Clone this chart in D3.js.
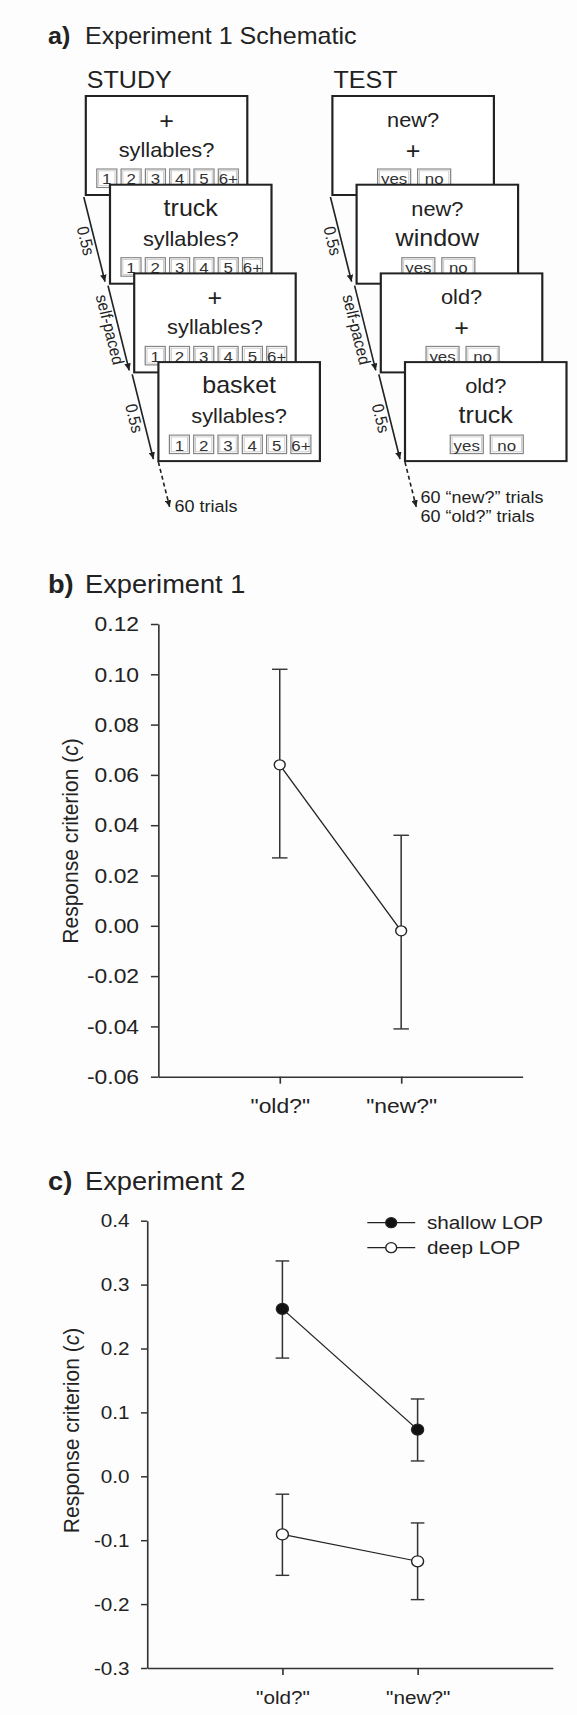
<!DOCTYPE html>
<meta charset="utf-8">
<style>

body {
  margin: 0;
  background: #fdfdfd;
}

svg {
  display: block;
  font-family: "Liberation Sans", Arial, sans-serif;
}

.axis path, .axis line {
  stroke: #333;
  stroke-width: 1.5;
}

</style>

<svg width="577" height="1715"></svg>

<script src="https://d3js.org/d3.v7.min.js"></script>
<script>

// schematic content
var studyWords = ["+", "truck", "+", "basket"],
    studyPrompt = "syllables?",
    studyKeys = ["1", "2", "3", "4", "5", "6+"],
    testPrompts = ["new?", "new?", "old?", "old?"],
    testWords = ["+", "window", "+", "truck"],
    testKeys = ["yes", "no"],
    delays = ["0.5s", "self-paced", "0.5s"],
    studyNote = ["60 trials"],
    testNote = ["60 “new?” trials", "60 “old?” trials"];

// experiment 1
var conditions = ['"old?"', '"new?"'];
var exp1Mean = [0.064, -0.002],
    exp1Hi = [0.102, 0.036],
    exp1Lo = [0.027, -0.041],
    exp1Ticks = [-0.06, -0.04, -0.02, 0, 0.02, 0.04, 0.06, 0.08, 0.10, 0.12];

// experiment 2
var exp2Series = ["shallow LOP", "deep LOP"];
var shallowMean = [0.262, 0.073],
    shallowHi = [0.337, 0.121],
    shallowLo = [0.185, 0.024];
var deepMean = [-0.091, -0.133],
    deepHi = [-0.028, -0.073],
    deepLo = [-0.155, -0.193];
var exp2Ticks = [-0.3, -0.2, -0.1, 0, 0.1, 0.2, 0.3, 0.4];

var FONT = '"Liberation Sans", Arial, sans-serif',
    INK = "#222";

// the original figure is a bit wider than tall, so everything is drawn
// in narrower units and stretched back out
var SX = 1.09;
function fx(v) { return v / SX; }

var svg = d3.select("svg");
svg.append("rect").attr("width", 577).attr("height", 1715).attr("fill", "#fdfdfd");

var root = svg.append("g").attr("transform", "scale(" + SX + ",1)");

var defs = svg.append("defs");
defs.append("marker")
    .attr("id", "tip")
    .attr("markerUnits", "userSpaceOnUse")
    .attr("markerWidth", 8).attr("markerHeight", 6)
    .attr("refX", 7).attr("refY", 3)
    .attr("orient", "auto")
  .append("path")
    .attr("d", "M0,0L7,3L0,6Z")
    .attr("fill", INK);

function title(letter, label, y, size) {
  root.append("text").attr("x", fx(48)).attr("y", y)
      .attr("font-size", size).attr("font-weight", "bold").attr("fill", INK)
      .text(letter);
  root.append("text").attr("x", fx(85)).attr("y", y)
      .attr("font-size", size).attr("fill", INK)
      .text(label);
}

// ---------- a) schematic ----------

title("a)", "Experiment 1 Schematic", 44, 23);

var top0 = 96, stepX = 24.2, stepY = 88.7, boxW = 161.5, boxH = 99;

function drawColumn(head, left0, line1, line2, keys, keyW, keyPitch, note, noteY) {
  root.append("text").attr("x", fx(left0 + 1)).attr("y", 88)
      .attr("font-size", 23).attr("fill", INK).text(head);

  var schem = root.append("g");

  line1.forEach(function(_, i) {
    var L = left0 + i * stepX, T = top0 + i * stepY;
    var cx = fx(L + boxW / 2);
    var card = schem.append("g");

    card.append("rect")
        .attr("x", fx(L)).attr("y", T)
        .attr("width", fx(boxW)).attr("height", boxH)
        .attr("fill", "#fff").attr("stroke", INK).attr("stroke-width", 2);

    [line1[i], line2[i]].forEach(function(t, j) {
      card.append("text")
          .attr("x", cx)
          .attr("y", T + (j ? 61 : 31) + (t.s === 23 && t.v === "+" ? 2 : 0))
          .attr("text-anchor", "middle")
          .attr("font-size", t.s)
          .attr("fill", INK)
          .text(t.v);
    });

    var rowW = keyPitch * (keys.length - 1) + keyW,
        rowL = L + boxW / 2 - rowW / 2 + 1;
    keys.forEach(function(k, n) {
      var kx = rowL + n * keyPitch;
      card.append("rect")
          .attr("x", fx(kx)).attr("y", T + 73)
          .attr("width", fx(keyW)).attr("height", 18.5)
          .attr("fill", "#fff").attr("stroke", "#808080").attr("stroke-width", 1.1);
      card.append("rect")
          .attr("x", fx(kx + 1.8)).attr("y", T + 74.8)
          .attr("width", fx(keyW - 3.6)).attr("height", 14.9)
          .attr("fill", "none").attr("stroke", "#c4c4c4").attr("stroke-width", 0.8);
      card.append("text")
          .attr("x", fx(kx + keyW / 2)).attr("y", T + 88.5)
          .attr("text-anchor", "middle")
          .attr("font-size", 15.5)
          .attr("fill", "#333")
          .text(k);
    });
  });

  // arrows between the cards, with the delay along each one
  var dxu = fx(stepX - 3), dyu = stepY - 4,
      ang = Math.atan2(dyu, dxu) * 180 / Math.PI;

  delays.forEach(function(d, i) {
    var x1 = fx(left0 + i * stepX - 2), y1 = top0 + i * stepY + boxH + 2,
        x2 = x1 + dxu, y2 = y1 + dyu;
    schem.append("line")
        .attr("x1", x1).attr("y1", y1).attr("x2", x2).attr("y2", y2)
        .attr("stroke", INK).attr("stroke-width", 1.5)
        .attr("marker-end", "url(#tip)");
    var mx = (x1 + x2) / 2 - fx(8.5), my = (y1 + y2) / 2 + 1.5;
    schem.append("text")
        .attr("transform", "translate(" + mx + "," + my + ") rotate(" + ang + ")")
        .attr("text-anchor", "middle")
        .attr("dy", "0.35em")
        .attr("font-size", 15.5)
        .attr("fill", INK)
        .text(d);
  });

  var sx = fx(left0 + 3 * stepX), sy = top0 + 3 * stepY + boxH + 1;
  schem.append("line")
      .attr("x1", sx).attr("y1", sy)
      .attr("x2", sx + dxu * 45 / dyu).attr("y2", sy + 45)
      .attr("stroke", INK).attr("stroke-width", 1.5)
      .attr("stroke-dasharray", "4,3")
      .attr("marker-end", "url(#tip)");

  note.forEach(function(t, i) {
    schem.append("text")
        .attr("x", fx(noteY.x)).attr("y", noteY.y + i * 18.4)
        .attr("font-size", 16.5).attr("fill", INK)
        .text(t);
  });
}

drawColumn("STUDY", 85.8,
    studyWords.map(function(w) { return {v: w, s: 23}; }),
    studyWords.map(function() { return {v: studyPrompt, s: 20}; }),
    studyKeys, 20, 24.3, studyNote, {x: 174.5, y: 512});

drawColumn("TEST", 332.4,
    testPrompts.map(function(p) { return {v: p, s: 20}; }),
    testWords.map(function(w) { return {v: w, s: 23}; }),
    testKeys, 33, 40, testNote, {x: 420.5, y: 503.3});

// ---------- charts ----------

function chart(opt) {
  var g = root.append("g");

  var x = d3.scalePoint().domain(conditions).range([fx(opt.x0), fx(opt.x1)]).padding(1);
  var y = d3.scaleLinear().domain(opt.domain).range([opt.yBot, opt.yTop]);

  var yAxis = g.append("g")
      .attr("class", "axis")
      .attr("transform", "translate(" + fx(opt.x0) + ",0)")
      .call(d3.axisLeft(y)
          .tickValues(opt.ticks)
          .tickFormat(function(d) { return d.toFixed(opt.digits); })
          .tickSize(fx(opt.tick))
          .tickSizeOuter(0)
          .tickPadding(fx(opt.pad)));

  var xAxis = g.append("g")
      .attr("class", "axis")
      .attr("transform", "translate(0," + opt.yBot + ")")
      .call(d3.axisBottom(x).tickSize(7).tickSizeOuter(0).tickPadding(opt.xpad));

  [yAxis, xAxis].forEach(function(a) {
    a.attr("font-family", FONT).attr("font-size", opt.font)
     .selectAll("text").attr("fill", INK);
  });

  var lab = g.append("text")
      .attr("transform", "translate(" + fx(opt.labX) + "," + opt.labY + ") rotate(-90)")
      .attr("text-anchor", "middle")
      .attr("font-size", 21)
      .attr("fill", INK);
  lab.append("tspan").text("Response criterion (");
  lab.append("tspan").attr("font-style", "italic").text("c");
  lab.append("tspan").text(")");

  opt.series.forEach(function(s) {
    var pts = conditions.map(function(c, i) {
      return {c: c, m: s.mean[i], hi: s.hi[i], lo: s.lo[i]};
    });

    g.append("path")
        .datum(pts)
        .attr("fill", "none")
        .attr("stroke", INK)
        .attr("stroke-width", 1.2)
        .attr("d", d3.line().x(function(d) { return x(d.c); }).y(function(d) { return y(d.m); }));

    var bars = g.append("g").attr("stroke", "#333").attr("stroke-width", 1.4);
    pts.forEach(function(d) {
      var cx = x(d.c), hw = fx(opt.cap / 2);
      bars.append("line").attr("x1", cx).attr("x2", cx).attr("y1", y(d.hi)).attr("y2", y(d.lo));
      bars.append("line").attr("x1", cx - hw).attr("x2", cx + hw).attr("y1", y(d.hi)).attr("y2", y(d.hi));
      bars.append("line").attr("x1", cx - hw).attr("x2", cx + hw).attr("y1", y(d.lo)).attr("y2", y(d.lo));
    });

    g.selectAll(null)
        .data(pts)
        .enter()
        .append("circle")
          .attr("cx", function(d) { return x(d.c); })
          .attr("cy", function(d) { return y(d.m); })
          .attr("r", opt.r)
          .attr("fill", s.fill)
          .attr("stroke", INK)
          .attr("stroke-width", 1.3);
  });

  return g;
}

title("b)", "Experiment 1", 592.7, 25);

chart({
  x0: 158.3, x1: 522.6, yTop: 624, yBot: 1076.7,
  domain: [-0.06, 0.12], ticks: exp1Ticks, digits: 2,
  tick: 7.4, pad: 11.8, xpad: 14.7, font: 21, cap: 15.5, r: 5,
  labX: 78, labY: 841,
  series: [{mean: exp1Mean, hi: exp1Hi, lo: exp1Lo, fill: "#fff"}]
});

title("c)", "Experiment 2", 1190, 25);

var c2 = chart({
  x0: 147.2, x1: 552.8, yTop: 1220.7, yBot: 1668,
  domain: [-0.3, 0.4], ticks: exp2Ticks, digits: 1,
  tick: 6.2, pad: 11.4, xpad: 16, font: 19, cap: 13.6, r: 5.5,
  labX: 79, labY: 1430.5,
  series: [
    {mean: shallowMean, hi: shallowHi, lo: shallowLo, fill: "#111"},
    {mean: deepMean, hi: deepHi, lo: deepLo, fill: "#fff"}
  ]
});

// legend
var legFill = ["#111", "#fff"];
exp2Series.forEach(function(name, i) {
  var ly = 1222.7 + i * 25;
  c2.append("line")
      .attr("x1", fx(367.3)).attr("x2", fx(415.2))
      .attr("y1", ly).attr("y2", ly)
      .attr("stroke", INK).attr("stroke-width", 1.2);
  c2.append("circle")
      .attr("cx", fx(391.2)).attr("cy", ly).attr("r", 5)
      .attr("fill", legFill[i]).attr("stroke", INK).attr("stroke-width", 1.3);
  c2.append("text")
      .attr("x", fx(427)).attr("y", ly)
      .attr("dy", "0.35em")
      .attr("font-size", 19)
      .attr("fill", INK)
      .text(name);
});

</script>
